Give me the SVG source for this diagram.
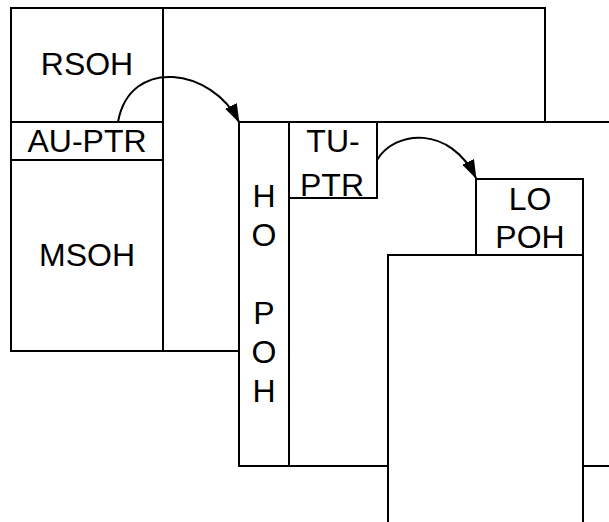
<svg xmlns="http://www.w3.org/2000/svg" width="609" height="522" viewBox="0 0 609 522">
<style>
.box{fill:#fff;stroke:#000;stroke-width:2}
.ln{fill:none;stroke:#000;stroke-width:2}
.t{font-family:"Liberation Sans",Arial,sans-serif;font-size:32px;fill:#000;text-anchor:middle}
.c{fill:none;stroke:#000;stroke-width:2}
</style>
<defs>
<marker id="ah" markerUnits="userSpaceOnUse" markerWidth="19" markerHeight="13" refX="18" refY="6.5" orient="auto" viewBox="0 0 19 13">
<path d="M0,0 L19,6.5 L0,13 z" fill="#000"/>
</marker>
</defs>
<g id="stm-frame">
<rect class="box" x="11" y="8" width="534" height="343"/>
<line class="ln" x1="163" y1="8" x2="163" y2="351"/>
</g>
<g id="rsoh"><text class="t" x="87" y="75">RSOH</text></g>
<g id="au-ptr">
<rect class="box" x="11" y="122" width="152" height="38"/>
<text class="t" x="87" y="152">AU-PTR</text>
</g>
<g id="msoh"><text class="t" x="87" y="266">MSOH</text></g>
<g id="vc4-frame">
<rect class="box" x="239" y="122" width="400" height="344"/>
</g>
<g id="ho-poh">
<rect class="box" x="239" y="122" width="50" height="344"/>
<text class="t" x="264" y="207">H</text>
<text class="t" x="264" y="246">O</text>
<text class="t" x="264" y="324">P</text>
<text class="t" x="264" y="363">O</text>
<text class="t" x="264" y="402">H</text>
</g>
<g id="tu-ptr">
<rect class="box" x="289" y="122" width="88" height="76"/>
<text class="t" x="333" y="152">TU-</text>
<text class="t" x="332" y="196">PTR</text>
</g>
<g id="lo-frame">
<rect class="box" x="388" y="255" width="195" height="290"/>
</g>
<g id="lo-poh">
<rect class="box" x="476" y="179" width="107" height="76"/>
<text class="t" x="530" y="210">LO</text>
<text class="t" x="530" y="248">POH</text>
</g>
<g id="connectors">
<path class="c" d="M118,122 C130,56 212,68 239,122" marker-end="url(#ah)"/>
<path class="c" d="M377,160 C395,130 450,125 476,178" marker-end="url(#ah)"/>
</g>
</svg>
